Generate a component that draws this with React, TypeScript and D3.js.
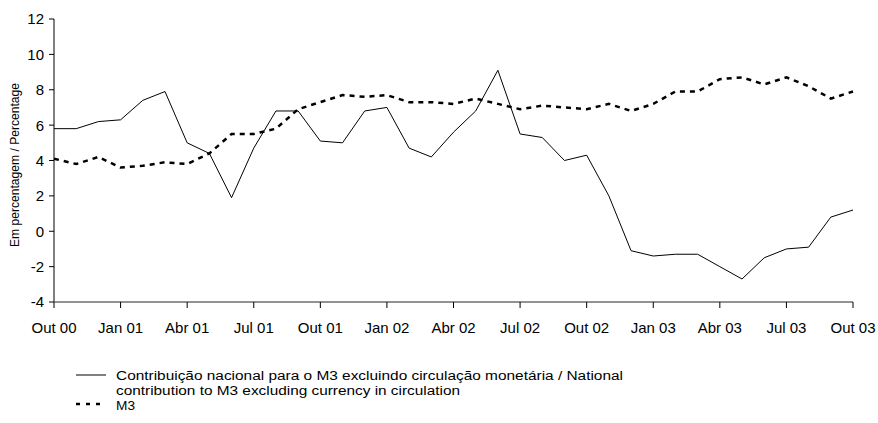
import React from "react";
import * as d3 from "d3";

const months: string[] = [
  "Out 00","Nov 00","Dez 00","Jan 01","Fev 01","Mar 01","Abr 01","Mai 01","Jun 01","Jul 01","Ago 01","Set 01",
  "Out 01","Nov 01","Dez 01","Jan 02","Fev 02","Mar 02","Abr 02","Mai 02","Jun 02","Jul 02","Ago 02","Set 02",
  "Out 02","Nov 02","Dez 02","Jan 03","Fev 03","Mar 03","Abr 03","Mai 03","Jun 03","Jul 03","Ago 03","Set 03",
  "Out 03",
];

const nationalContribution: number[] = [
  5.8, 5.8, 6.2, 6.3, 7.4, 7.9, 5.0, 4.4, 1.9, 4.7, 6.8, 6.8,
  5.1, 5.0, 6.8, 7.0, 4.7, 4.2, 5.6, 6.8, 9.1, 5.5, 5.3, 4.0,
  4.3, 2.0, -1.1, -1.4, -1.3, -1.3, -2.0, -2.7, -1.5, -1.0, -0.9, 0.8,
  1.2,
];

const m3: number[] = [
  4.1, 3.8, 4.2, 3.6, 3.7, 3.9, 3.8, 4.4, 5.5, 5.5, 5.8, 6.9,
  7.3, 7.7, 7.6, 7.7, 7.3, 7.3, 7.2, 7.5, 7.2, 6.9, 7.1, 7.0,
  6.9, 7.2, 6.8, 7.2, 7.9, 7.9, 8.6, 8.7, 8.3, 8.7, 8.2, 7.5,
  7.9,
];

const xTickLabels: string[] = [
  "Out 00","Jan 01","Abr 01","Jul 01","Out 01","Jan 02","Abr 02","Jul 02","Out 02","Jan 03","Abr 03","Jul 03","Out 03",
];
const yTicks: number[] = [-4, -2, 0, 2, 4, 6, 8, 10, 12];

const legendLine1 = "Contribuição nacional para o M3 excluindo circulação monetária / National";
const legendLine2 = "contribution to M3 excluding currency in circulation";
const legendM3 = "M3";
const yTitle = "Em percentagem / Percentage";

export default function App() {
  const W = 878, H = 423;
  const left = 54, right = 853, top = 19, bottom = 302;
  const x = d3.scaleLinear().domain([0, months.length - 1]).range([left, right]);
  const y = d3.scaleLinear().domain([-4, 12]).range([bottom, top]);
  const line = d3.line<number>().x((_, i) => x(i)).y((d) => y(d));
  const font = "Arial, 'Liberation Sans', sans-serif";

  return (
    <svg width={W} height={H} style={{ position: "absolute", left: 0, top: 0, background: "#fff" }}
      fontFamily={font}>
      {/* y axis */}
      <line x1={left} x2={left} y1={top} y2={bottom} stroke="#000" strokeWidth={1} />
      {yTicks.map((t) => (
        <g key={t}>
          <line x1={left - 5} x2={left} y1={y(t)} y2={y(t)} stroke="#000" strokeWidth={1} />
          <text x={44} y={y(t)} dy="0.36em" textAnchor="end" fontSize={15} fill="#000">{t}</text>
        </g>
      ))}
      {/* x axis */}
      <line x1={left} x2={right} y1={bottom} y2={bottom} stroke="#6e6e6e" strokeWidth={1.5} />
      {xTickLabels.map((lab, k) => {
        const xi = x(k * 3);
        return (
          <g key={lab}>
            <line x1={xi} x2={xi} y1={bottom} y2={bottom + 6} stroke="#000" strokeWidth={1} />
            <text x={xi} y={333} textAnchor="middle" fontSize={15} fill="#000">{lab}</text>
          </g>
        );
      })}
      {/* y title */}
      <text transform={`translate(19,165) rotate(-90)`} textAnchor="middle" fontSize={13} fill="#000"
        textLength={164} lengthAdjust="spacingAndGlyphs">{yTitle}</text>

      {/* series */}
      <path d={line(nationalContribution) || ""} fill="none" stroke="#000" strokeWidth={1} />
      <path d={line(m3) || ""} fill="none" stroke="#000" strokeWidth={2.5} strokeDasharray="5,5" />

      {/* legend */}
      <line x1={76} x2={106} y1={375} y2={375} stroke="#000" strokeWidth={1} />
      <text x={116} y={380} fontSize={12.5} fill="#000" textLength={507} lengthAdjust="spacingAndGlyphs">{legendLine1}</text>
      <text x={116} y={394.5} fontSize={12.5} fill="#000" textLength={344} lengthAdjust="spacingAndGlyphs">{legendLine2}</text>
      <line x1={76} x2={106} y1={404} y2={404} stroke="#000" strokeWidth={2.5} strokeDasharray="4,6" />
      <text x={116} y={409.5} fontSize={12.5} fill="#000" textLength={19} lengthAdjust="spacingAndGlyphs">{legendM3}</text>
    </svg>
  );
}
